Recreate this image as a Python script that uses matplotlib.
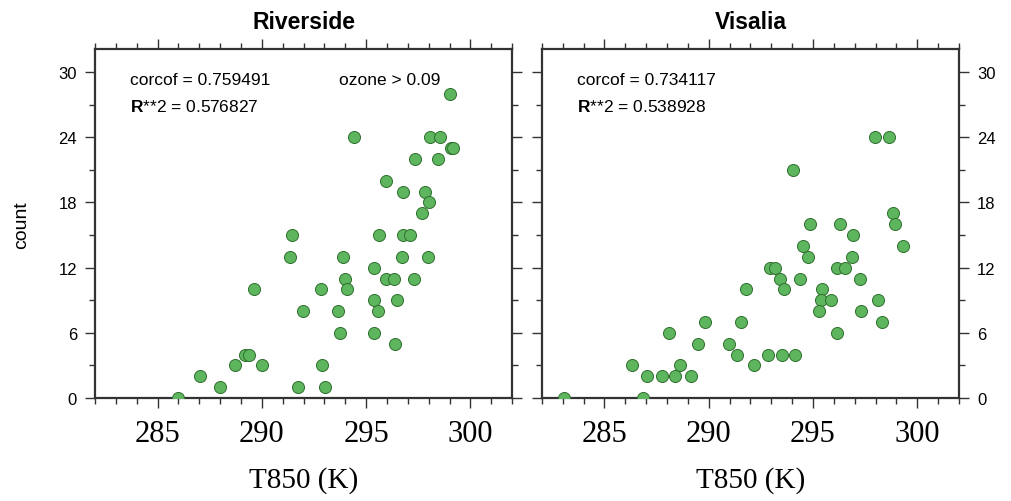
import numpy as np
import matplotlib
matplotlib.use('Agg')
import matplotlib.pyplot as plt
from matplotlib.ticker import MultipleLocator

plt.rcParams['mathtext.fontset'] = 'custom'
plt.rcParams['mathtext.bf'] = 'Liberation Sans:bold'
plt.rcParams['mathtext.rm'] = 'Liberation Sans'

# data
riv_t850 = [299.02, 294.44, 298.06, 298.54, 299.05, 299.16, 297.35, 298.46, 295.95, 296.75,
            297.81, 298.02, 297.67, 291.46, 295.63, 296.78, 297.10, 291.33, 293.89, 296.71,
            297.98, 295.40, 294.00, 295.95, 296.32, 297.32, 289.63, 292.86, 294.08, 295.40,
            296.46, 291.98, 293.65, 295.56, 293.73, 295.40, 296.40, 289.17, 289.37, 288.70,
            290.03, 292.90, 287.03, 287.97, 291.71, 293.02, 286.00]
riv_count = [28, 24, 24, 24, 23, 23, 22, 22, 20, 19,
             19, 18, 17, 15, 15, 15, 15, 13, 13, 13,
             13, 12, 11, 11, 11, 11, 10, 10, 10, 9,
             9, 8, 8, 8, 6, 6, 5, 4, 4, 3,
             3, 3, 2, 1, 1, 1, 0]

vis_t850 = [297.98, 298.65, 294.04, 298.84, 298.94, 294.86, 296.30, 296.92, 299.34, 294.50,
            294.76, 296.89, 292.94, 293.19, 296.14, 296.54, 293.42, 294.38, 297.24, 291.78,
            293.61, 295.45, 295.37, 295.88, 298.12, 295.30, 297.29, 289.82, 291.56, 298.33,
            288.09, 296.17, 289.50, 290.97, 291.34, 292.86, 293.53, 294.12, 286.33, 288.60,
            292.17, 287.05, 287.77, 288.36, 289.16, 283.05, 286.86]
vis_count = [24, 24, 21, 17, 16, 16, 16, 15, 14, 14,
             13, 13, 12, 12, 12, 12, 11, 11, 11, 10,
             10, 10, 9, 9, 9, 8, 8, 7, 7, 7,
             6, 6, 5, 5, 4, 4, 4, 4, 3, 3,
             3, 2, 2, 2, 2, 0, 0]

panels = [
    ('Riverside', riv_t850, riv_count, 'corcof = 0.759491', '0.576827', 'left'),
    ('Visalia', vis_t850, vis_count, 'corcof = 0.734117', '0.538928', 'right'),
]

fig = plt.figure(figsize=(10.11, 5.02), dpi=100)
lefts = [0.094, 0.536]
edge = '#333333'

for left, (name, t, c, cc, r2, side) in zip(lefts, panels):
    ax = fig.add_axes([left, 0.205, 0.4125, 0.695])
    ax.scatter(t, c, s=75, facecolor='#5db55d', edgecolor='#2f6f2f', linewidth=0.7, zorder=3)
    ax.set_xlim(282, 302)
    ax.set_ylim(0, 32.1)
    ax.xaxis.set_major_locator(MultipleLocator(5))
    ax.xaxis.set_minor_locator(MultipleLocator(1))
    ax.yaxis.set_major_locator(MultipleLocator(6))
    ax.yaxis.set_minor_locator(MultipleLocator(3))
    for sp in ax.spines.values():
        sp.set_linewidth(1.6)
        sp.set_color(edge)
    ax.tick_params(which='both', direction='out', top=True, bottom=True, left=True, right=True,
                   color=edge, width=1.0)
    ax.tick_params(which='major', length=7)
    ax.tick_params(which='minor', length=4)
    ax.tick_params(axis='y', labelsize=12, pad=6,
                   labelleft=(side == 'left'), labelright=(side == 'right'))
    ax.tick_params(axis='x', labelsize=22, pad=8)
    for lab in ax.get_xticklabels():
        lab.set_family('Liberation Serif')
    for lab in ax.get_yticklabels():
        lab.set_family('Liberation Sans')
    ax.set_xlabel('T850 (K)', family='Liberation Serif', fontsize=21, labelpad=13)
    ax.set_title(name, family='Liberation Sans', fontweight='bold', fontsize=16.5, pad=15)
    ax.text(0.085, 0.914, cc, transform=ax.transAxes, family='Liberation Sans', fontsize=12.5,
            va='center')
    ax.text(0.085, 0.837, r'$\mathbf{R}$**2 = ' + r2, transform=ax.transAxes,
            family='Liberation Sans', fontsize=12.5, va='center')
    if side == 'left':
        ax.set_ylabel('count', family='Liberation Sans', fontsize=14, labelpad=20)
        ax.text(0.585, 0.914, 'ozone > 0.09', transform=ax.transAxes, family='Liberation Sans',
                fontsize=12.5, va='center')

fig.savefig('out.png', dpi=100)
